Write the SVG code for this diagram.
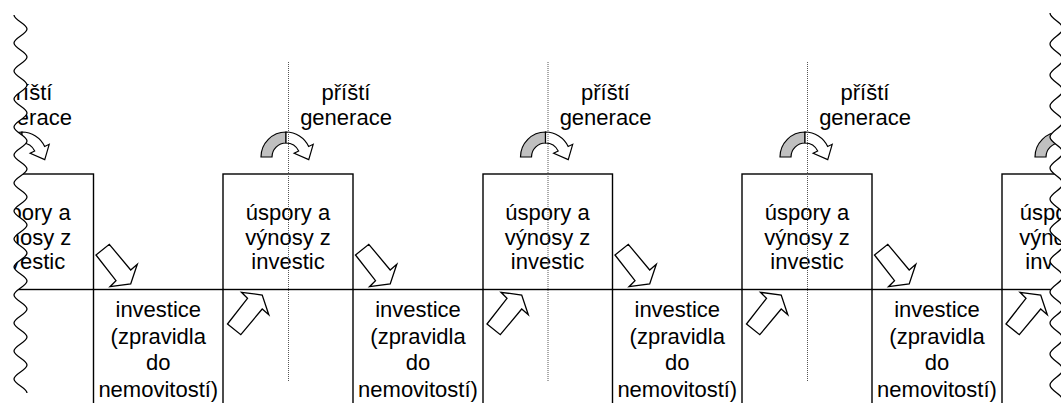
<svg xmlns="http://www.w3.org/2000/svg" width="1061" height="403" viewBox="0 0 1061 403">
<style>
.box{fill:none;stroke:#000;stroke-width:1.4}
.t{font-family:"Liberation Sans",Arial,sans-serif;font-size:22px;fill:#000;text-anchor:middle}
.blk{fill:#fff;stroke:#000;stroke-width:1.3;stroke-linejoin:miter}
.dot{stroke:#555;stroke-width:1;stroke-dasharray:1 1;fill:none}
.wave{fill:none;stroke:#000;stroke-width:1.3}
</style>
<defs>
<polygon id="down" class="blk" points="0,0 13.3,-10.7 34.7,15 41.3,9.3 34.7,29 14,31.7 20,25.7"/>
<polygon id="up" class="blk" points="0,0 13.3,10.7 34.7,-15 41.3,-9.3 34.7,-29 14,-31.7 20,-25.7"/>
<g id="curl">
<path d="M-25,0 A25,25 0 0 1 0,-25 L0,-14 A14,14 0 0 0 -14,0 Z" fill="#c0c0c0" stroke="#000" stroke-width="1.2"/>
<path d="M0,-25 A25,25 0 0 1 22.66,-10.57 L27.19,-12.68 L22.74,2.64 L8.16,-3.8 L12.69,-5.92 A14,14 0 0 0 0,-14 Z" fill="#fff" stroke="#000" stroke-width="1.2" stroke-linejoin="miter"/>
</g>
</defs>
<rect x="0" y="0" width="1061" height="403" fill="#fff"/>
<g id="savings-a"><rect class="box" x="-36.5" y="174" width="130" height="115.5"/><text class="t" x="28.5" y="220">úspory a</text><text class="t" x="28.5" y="245">výnosy z</text><text class="t" x="28.5" y="269">investic</text></g>
<g id="savings-b"><rect class="box" x="223" y="174" width="130" height="115.5"/><text class="t" x="288" y="220">úspory a</text><text class="t" x="288" y="245">výnosy z</text><text class="t" x="288" y="269">investic</text></g>
<g id="savings-c"><rect class="box" x="483" y="174" width="129.5" height="115.5"/><text class="t" x="547.5" y="220">úspory a</text><text class="t" x="547.5" y="245">výnosy z</text><text class="t" x="547.5" y="269">investic</text></g>
<g id="savings-d"><rect class="box" x="742" y="174" width="130" height="115.5"/><text class="t" x="807" y="220">úspory a</text><text class="t" x="807" y="245">výnosy z</text><text class="t" x="807" y="269">investic</text></g>
<g id="savings-e"><rect class="box" x="1002" y="174" width="130" height="115.5"/><text class="t" x="1062" y="220">úspory a</text><text class="t" x="1062" y="245">výnosy z</text><text class="t" x="1062" y="269">investic</text></g>
<g id="invest-1"><rect class="box" x="93.5" y="289.5" width="129.5" height="120"/><text class="t" x="158.3" y="317">investice</text><text class="t" x="158.3" y="343.5">(zpravidla</text><text class="t" x="158.3" y="370">do</text><text class="t" x="158.3" y="397">nemovitostí)</text></g>
<g id="invest-2"><rect class="box" x="353" y="289.5" width="130" height="120"/><text class="t" x="418" y="317">investice</text><text class="t" x="418" y="343.5">(zpravidla</text><text class="t" x="418" y="370">do</text><text class="t" x="418" y="397">nemovitostí)</text></g>
<g id="invest-3"><rect class="box" x="612.5" y="289.5" width="129.5" height="120"/><text class="t" x="677.3" y="317">investice</text><text class="t" x="677.3" y="343.5">(zpravidla</text><text class="t" x="677.3" y="370">do</text><text class="t" x="677.3" y="397">nemovitostí)</text></g>
<g id="invest-4"><rect class="box" x="872" y="289.5" width="130" height="120"/><text class="t" x="937" y="317">investice</text><text class="t" x="937" y="343.5">(zpravidla</text><text class="t" x="937" y="370">do</text><text class="t" x="937" y="397">nemovitostí)</text></g>
<g id="label-a"><text class="t" x="28" y="100">příští</text><text class="t" x="26" y="125">generace</text></g>
<g id="label-b"><text class="t" x="346" y="100">příští</text><text class="t" x="346" y="125">generace</text></g>
<g id="label-c"><text class="t" x="605.5" y="100">příští</text><text class="t" x="605.5" y="125">generace</text></g>
<g id="label-d"><text class="t" x="865" y="100">příští</text><text class="t" x="865" y="125">generace</text></g>
<g id="connectors">
<use href="#down" x="96" y="255"/>
<use href="#down" x="355.5" y="255"/>
<use href="#down" x="615" y="255"/>
<use href="#down" x="874.5" y="255"/>
<use href="#up" x="227.5" y="324"/>
<use href="#up" x="487" y="324"/>
<use href="#up" x="746.5" y="324"/>
<use href="#up" x="1006" y="324"/>
<use href="#curl" x="22" y="157"/>
<use href="#curl" x="286" y="157"/>
<use href="#curl" x="545.5" y="157"/>
<use href="#curl" x="805" y="157"/>
<use href="#curl" x="1060" y="157"/>
</g>
<g id="dividers">
<line class="dot" x1="288.5" y1="62" x2="288.5" y2="382"/>
<line class="dot" x1="548" y1="62" x2="548" y2="382"/>
<line class="dot" x1="807.5" y1="62" x2="807.5" y2="382"/>
</g>
<g id="break-left">
<path fill="#fff" stroke="none" d="M14,15 C14,20.1 27,23.9 27,29 S14,37.9 14,43 S27,51.9 27,57 S14,65.9 14,71 S27,79.9 27,85 S14,93.9 14,99 S27,107.9 27,113 S14,121.9 14,127 S27,135.9 27,141 S14,149.9 14,155 S27,163.9 27,169 S14,177.9 14,183 S27,191.9 27,197 S14,205.9 14,211 S27,219.9 27,225 S14,233.9 14,239 S27,247.9 27,253 S14,261.9 14,267 S27,275.9 27,281 S14,289.9 14,295 S27,303.9 27,309 S14,317.9 14,323 S27,331.9 27,337 S14,345.9 14,351 S27,359.9 27,365 S14,373.9 14,379 S27,387.9 27,393 L0,393 L0,15 Z"/>
<path class="wave" d="M14,15 C14,20.1 27,23.9 27,29 S14,37.9 14,43 S27,51.9 27,57 S14,65.9 14,71 S27,79.9 27,85 S14,93.9 14,99 S27,107.9 27,113 S14,121.9 14,127 S27,135.9 27,141 S14,149.9 14,155 S27,163.9 27,169 S14,177.9 14,183 S27,191.9 27,197 S14,205.9 14,211 S27,219.9 27,225 S14,233.9 14,239 S27,247.9 27,253 S14,261.9 14,267 S27,275.9 27,281 S14,289.9 14,295 S27,303.9 27,309 S14,317.9 14,323 S27,331.9 27,337 S14,345.9 14,351 S27,359.9 27,365 S14,373.9 14,379 S27,387.9 27,393"/>
</g>
<g id="break-right">
<path fill="#fff" stroke="none" d="M1050,13 C1050,18.64 1063,22.86 1063,28.5 S1050,38.36 1050,44 S1063,53.86 1063,59.5 S1050,69.36 1050,75 S1063,84.86 1063,90.5 S1050,100.36 1050,106 S1063,115.86 1063,121.5 S1050,131.36 1050,137 S1063,146.86 1063,152.5 S1050,162.36 1050,168 S1063,177.86 1063,183.5 S1050,193.36 1050,199 S1063,208.86 1063,214.5 S1050,224.36 1050,230 S1063,239.86 1063,245.5 S1050,255.36 1050,261 S1063,270.86 1063,276.5 S1050,286.36 1050,292 S1063,301.86 1063,307.5 S1050,317.36 1050,323 S1063,332.86 1063,338.5 S1050,348.36 1050,354 S1063,363.86 1063,369.5 S1050,379.36 1050,385 S1063,394.86 1063,400.5 L1070,400.5 L1070,13 Z"/>
<path class="wave" d="M1050,13 C1050,18.64 1063,22.86 1063,28.5 S1050,38.36 1050,44 S1063,53.86 1063,59.5 S1050,69.36 1050,75 S1063,84.86 1063,90.5 S1050,100.36 1050,106 S1063,115.86 1063,121.5 S1050,131.36 1050,137 S1063,146.86 1063,152.5 S1050,162.36 1050,168 S1063,177.86 1063,183.5 S1050,193.36 1050,199 S1063,208.86 1063,214.5 S1050,224.36 1050,230 S1063,239.86 1063,245.5 S1050,255.36 1050,261 S1063,270.86 1063,276.5 S1050,286.36 1050,292 S1063,301.86 1063,307.5 S1050,317.36 1050,323 S1063,332.86 1063,338.5 S1050,348.36 1050,354 S1063,363.86 1063,369.5 S1050,379.36 1050,385 S1063,394.86 1063,400.5"/>
</g>
</svg>
